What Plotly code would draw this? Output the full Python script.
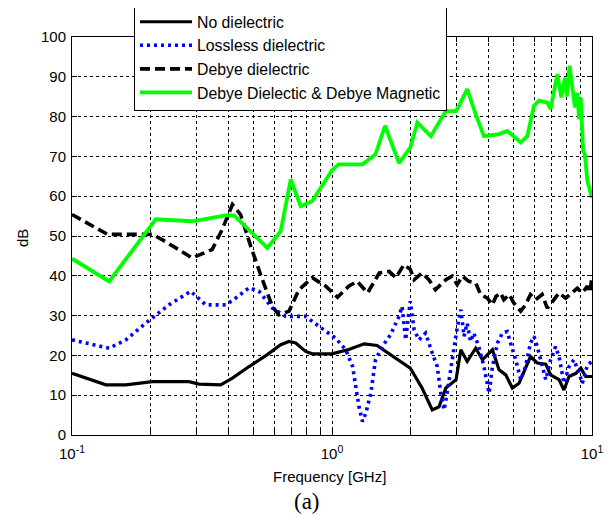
import plotly.graph_objects as go

# ---------------- data ----------------
freq_none = [0.1, 0.135, 0.161, 0.204, 0.282, 0.308, 0.373, 0.414, 0.48, 0.564, 0.635, 0.683, 0.725, 0.792, 0.84,
             1.0, 1.16, 1.33, 1.49, 1.76, 2.0, 2.22, 2.43, 2.58, 2.74, 3.0, 3.13, 3.31, 3.57, 3.79, 4.14, 4.39,
             4.66, 4.94, 5.24, 5.8, 6.16, 6.64, 6.93, 7.47, 7.8, 8.16, 8.67, 9.06, 9.46, 10.0]
db_none = [15.5, 12.6, 12.6, 13.4, 13.4, 12.8, 12.6, 14.3, 17.2, 20.2, 22.7, 23.5, 23.1, 21.0, 20.4,
           20.4, 21.5, 22.9, 22.5, 19.3, 16.8, 11.8, 6.3, 7.1, 11.8, 13.9, 21.4, 18.5, 21.8, 18.9, 21.4, 16.4,
           15.1, 11.8, 13.0, 19.7, 18.1, 17.8, 15.1, 13.9, 11.3, 14.7, 15.5, 16.8, 14.7, 14.7]

freq_lossless = [0.1, 0.139, 0.161, 0.192, 0.236, 0.286, 0.327, 0.39, 0.426, 0.48, 0.524, 0.59, 0.664, 0.792,
                 0.891, 1.03, 1.13, 1.2, 1.27, 1.31, 1.35, 1.41, 1.47, 1.56, 1.68, 1.81, 1.86, 1.92, 2.0, 2.07,
                 2.16, 2.29, 2.43, 2.54, 2.62, 2.7, 2.77, 2.9, 3.03, 3.13, 3.22, 3.31, 3.41, 3.51, 3.67, 3.84,
                 4.02, 4.14, 4.33, 4.52, 4.72, 4.86, 5.09, 5.32, 5.55, 5.8, 5.98, 6.16, 6.43, 6.64, 6.93, 7.24,
                 7.47, 7.8, 8.16, 8.52, 8.92, 9.18, 9.6, 10.0]
db_lossless = [23.9, 21.8, 23.9, 28.1, 32.7, 36.1, 32.7, 32.7, 34.4, 37.0, 36.1, 31.9, 29.8, 29.8,
               27.3, 24.4, 21.4, 17.2, 7.1, 3.4, 5.5, 10.5, 18.9, 22.2, 25.2, 29.8, 32.3, 23.9, 33.6, 26.4,
               23.9, 25.6, 20.6, 17.2, 10.5, 6.3, 10.5, 19.7, 26.9, 31.5, 24.8, 28.1, 23.5, 25.6, 22.2, 17.2,
               10.5, 17.2, 23.1, 25.6, 26.0, 23.1, 18.9, 13.9, 17.2, 23.1, 24.8, 22.2, 17.2, 13.9, 18.9, 22.2,
               19.7, 13.0, 17.2, 18.9, 15.5, 13.0, 17.6, 18.5]

freq_debye = [0.1, 0.137, 0.204, 0.222, 0.29, 0.346, 0.378, 0.414, 0.445, 0.487, 0.54, 0.59, 0.625, 0.683,
              0.746, 0.84, 0.946, 1.05, 1.16, 1.25, 1.37, 1.52, 1.66, 1.76, 1.89, 2.0, 2.07, 2.22, 2.36, 2.5,
              2.74, 2.9, 3.03, 3.17, 3.36, 3.57, 3.73, 3.96, 4.14, 4.27, 4.45, 4.58, 4.8, 5.0, 5.32, 5.55,
              5.8, 6.07, 6.43, 6.73, 7.14, 7.47, 7.92, 8.4, 8.78, 9.18, 9.6, 9.8, 10.0]
db_debye = [55.4, 50.4, 50.4, 49.1, 44.5, 46.6, 51.6, 57.9, 55.4, 47.4, 39.0, 32.3, 30.2, 31.1,
            36.5, 39.5, 37.4, 34.6, 37.4, 38.6, 35.7, 40.7, 41.1, 39.5, 42.8, 41.6, 39.0, 40.7, 39.0, 36.5,
            39.0, 39.9, 37.8, 39.9, 38.6, 38.2, 35.3, 34.4, 32.7, 34.8, 35.7, 34.0, 35.3, 33.2, 31.1, 32.7,
            35.3, 34.0, 35.3, 31.9, 34.0, 35.7, 34.4, 35.7, 36.9, 35.7, 37.4, 35.8, 39.6]

freq_magnetic = [0.1, 0.139, 0.21, 0.29, 0.39, 0.42, 0.564, 0.635, 0.694, 0.758, 0.84, 0.946, 1.0, 1.06,
                 1.31, 1.47, 1.6, 1.81, 2.0, 2.13, 2.4, 2.74, 3.0, 3.08, 3.31, 3.57, 3.84, 4.39, 4.72, 5.32,
                 5.64, 5.98, 6.25, 6.73, 6.93, 7.36, 7.62, 7.88, 8.0, 8.2, 8.4, 8.6, 8.78, 8.92, 9.06, 9.24,
                 9.38, 9.6, 10.0]
db_magnetic = [44.3, 38.6, 54.2, 53.7, 55.2, 55.2, 47.0, 51.2, 64.2, 57.5, 58.8, 64.2, 66.5, 68.0,
               68.0, 70.5, 77.7, 68.3, 72.2, 78.5, 75.1, 81.4, 81.4, 82.7, 86.9, 80.6, 75.1, 75.6, 76.4, 73.5,
               75.1, 82.7, 84.0, 83.5, 81.9, 90.7, 84.8, 89.8, 85.0, 92.8, 86.9, 82.3, 86.0, 79.3, 84.8, 71.4,
               70.6, 63.8, 59.6]

series_names = ["No dielectric", "Lossless dielectric", "Debye dielectric", "Debye Dielectic & Debye Magnetic"]

x_major_vals = [0.1, 1, 10]
x_major_text = ["10<sup>-1</sup>", "10<sup>0</sup>", "10<sup>1</sup>"]
x_minor_vals = [0.2, 0.3, 0.4, 0.5, 0.6, 0.7, 0.8, 0.9, 2, 3, 4, 5, 6, 7, 8, 9]
y_tick_vals = [0, 10, 20, 30, 40, 50, 60, 70, 80, 90, 100]

# ---------------- figure ----------------
# page body has an 8px margin; figure is sized so the whole page fits in 615x523
OFF = 8
W, H = 615 - 2 * OFF, 523 - 2 * OFF
PL, PR, PT, PB = 72, 592, 37, 435  # plot-area edges in window pixels

FONT = "Liberation Sans, Arial, sans-serif"
fig = go.Figure()
fig.add_trace(go.Scatter(x=freq_none, y=db_none, mode="lines", name=series_names[0],
                         line=dict(color="black", width=3.2)))
fig.add_trace(go.Scatter(x=freq_lossless, y=db_lossless, mode="lines", name=series_names[1],
                         line=dict(color="#0000ff", width=3.6, dash="3px,4px")))
fig.add_trace(go.Scatter(x=freq_debye, y=db_debye, mode="lines", name=series_names[2],
                         line=dict(color="black", width=3.6, dash="10px,5px")))
fig.add_trace(go.Scatter(x=freq_magnetic, y=db_magnetic, mode="lines", name=series_names[3],
                         line=dict(color="#00ff00", width=3.8)))

grid_style = dict(gridcolor="black", gridwidth=1, griddash="3px,3px")
axis_common = dict(showline=True, linecolor="black", linewidth=1, mirror="ticks",
                   ticks="inside", ticklen=5, tickcolor="black", tickwidth=1,
                   showgrid=True, zeroline=False,
                   tickfont=dict(family=FONT, size=15, color="black"), **grid_style)

fig.update_xaxes(type="log", range=[-1, 1], tickmode="array", tickvals=x_major_vals,
                 ticktext=x_major_text, ticklabelstandoff=5,
                 minor=dict(tickmode="array", tickvals=x_minor_vals, ticks="inside", ticklen=5,
                            tickcolor="black", tickwidth=1, showgrid=True, **grid_style),
                 **axis_common)
fig.update_yaxes(range=[0, 100], tickmode="array", tickvals=y_tick_vals, ticklabelstandoff=2,
                 **axis_common)

def px_x(x):
    return (x - PL) / (PR - PL)

def px_y(y):
    return (PB - y) / (PB - PT)

fig.update_layout(
    width=W, height=H,
    margin=dict(l=PL - OFF, r=615 - OFF - PR, t=PT - OFF, b=523 - OFF - PB, autoexpand=False),
    paper_bgcolor="white", plot_bgcolor="white",
    font=dict(family=FONT, size=15, color="black"),
    showlegend=True,
    legend=dict(x=px_x(134), y=px_y(4), xanchor="left", yanchor="top",
                bgcolor="white", bordercolor="black", borderwidth=1,
                font=dict(family=FONT, size=15.8, color="black"),
                itemwidth=52, tracegroupgap=0, entrywidth=255, entrywidthmode="pixels"),
    annotations=[
        dict(text="Frequency [GHz]", xref="paper", yref="paper", x=px_x(329), y=px_y(477),
             xanchor="center", yanchor="middle", showarrow=False,
             font=dict(family=FONT, size=15, color="black")),
        dict(text="dB", xref="paper", yref="paper", x=px_x(22), y=px_y(238),
             xanchor="center", yanchor="middle", showarrow=False, textangle=-90,
             font=dict(family=FONT, size=15, color="black")),
        dict(text="(a)", xref="paper", yref="paper", x=px_x(307), y=px_y(516),
             xanchor="center", yanchor="bottom", showarrow=False,
             font=dict(family="Liberation Serif, Times New Roman, serif", size=23, color="black")),
    ],
)

fig.write_html("out.html")
